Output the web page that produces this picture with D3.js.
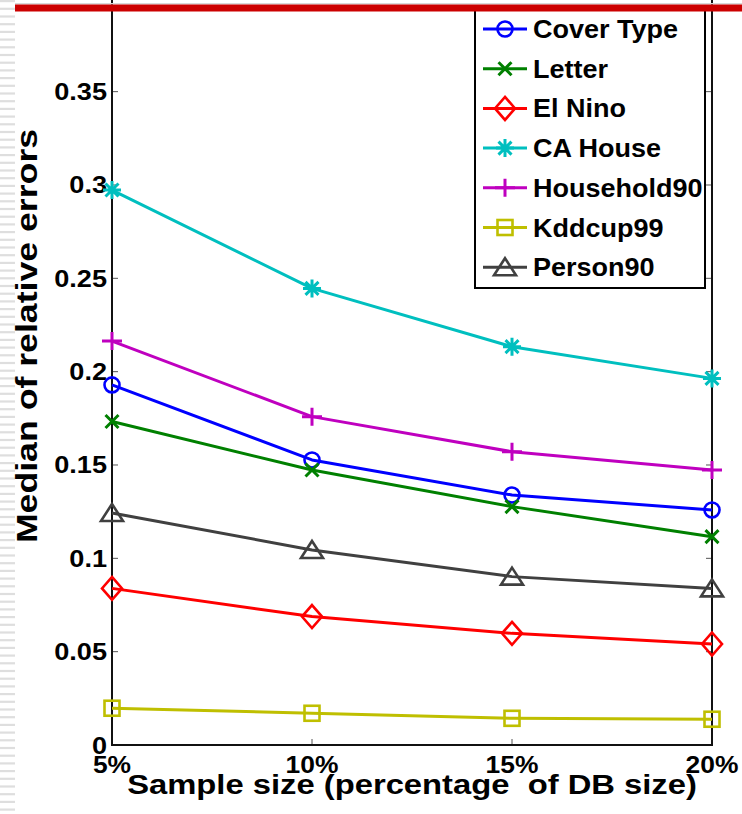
<!DOCTYPE html>
<html>
<head>
<meta charset="utf-8">
<script src="https://cdn.jsdelivr.net/npm/d3@7"></script>
<style>
html,body{margin:0;padding:0;background:#fff;}
svg{display:block;}
text{font-family:"Liberation Sans",Arial,Helvetica,sans-serif;fill:#000;}
</style>
</head>
<body>
<svg id="chart" width="742" height="814"></svg>
<script>
// ---- data ----
const sampleSizes = [5, 10, 15, 20];
const xTickLabels = ["5%", "10%", "15%", "20%"];
const yTicks = [0, 0.05, 0.1, 0.15, 0.2, 0.25, 0.3, 0.35];
const yTickLabels = ["0", "0.05", "0.1", "0.15", "0.2", "0.25", "0.3", "0.35"];
const seriesNames = ["Cover Type", "Letter", "El Nino", "CA House", "Household90", "Kddcup99", "Person90"];
const coverType   = [0.1929, 0.1527, 0.1339, 0.1259];
const letter      = [0.1733, 0.1473, 0.1277, 0.1116];
const elNino      = [0.0839, 0.0688, 0.0598, 0.0541];
const caHouse     = [0.2973, 0.2446, 0.2134, 0.1964];
const household90 = [0.2164, 0.1759, 0.1571, 0.1473];
const kddcup99    = [0.0197, 0.0170, 0.0143, 0.0138];
const person90    = [0.1243, 0.1045, 0.0902, 0.0839];
const seriesValues = [coverType, letter, elNino, caHouse, household90, kddcup99, person90];
const seriesColors = ["#0000ff", "#008000", "#ff0000", "#00bfbf", "#bf00bf", "#bfbf00", "#404040"];
const seriesMarkers = ["circle", "x", "diamond", "asterisk", "plus", "square", "triangle"];
const xTitle = "Sample size (percentage  of DB size)";
const yTitle = "Median of relative errors";

// ---- layout ----
const svg = d3.select("#chart");
const left = 112, right = 712, bottom = 745;
const x = d3.scaleLinear().domain([5, 20]).range([left, right]);
const y = d3.scaleLinear().domain([0, 0.4]).range([bottom, bottom - 0.4 * 1866.7]);

function stext(g, tx, ty, str, size, weight, anchor, rot, sx) {
  let tr = `translate(${tx},${ty})` + (rot ? ` rotate(${rot})` : "") + ` scale(${sx},1)`;
  return g.append("text").attr("transform", tr)
    .attr("text-anchor", anchor).style("font-size", size + "px")
    .style("font-weight", weight).style("white-space", "pre").text(str);
}

// left decorative strip
const strip = svg.append("g");
d3.range(0, 814, 7.7).forEach(v => {
  strip.append("rect").attr("x", 0).attr("y", v).attr("width", 15).attr("height", 2.2).attr("fill", "#dedede");
});

// ticks
const tickG = svg.append("g").attr("stroke", "#555").attr("stroke-width", 1);
yTicks.forEach(t => {
  if (t === 0) return;
  tickG.append("line").attr("x1", left).attr("x2", left + 6).attr("y1", y(t)).attr("y2", y(t));
  tickG.append("line").attr("x1", right).attr("x2", right - 6).attr("y1", y(t)).attr("y2", y(t));
});
sampleSizes.forEach(s => {
  tickG.append("line").attr("x1", x(s)).attr("x2", x(s)).attr("y1", bottom).attr("y2", bottom - 6);
});

// frame
svg.append("rect").attr("x", left).attr("y", y(0.4)).attr("width", right - left).attr("height", bottom - y(0.4))
  .attr("fill", "none").attr("stroke", "#111").attr("stroke-width", 2);

// tick labels
const lab = svg.append("g");
yTicks.forEach((t, i) => stext(lab, 107, y(t) + 8.5, yTickLabels[i], 24, "bold", "end", 0, 1.13));
sampleSizes.forEach((s, i) => stext(lab, x(s), 773, xTickLabels[i], 24, "bold", "middle", 0, 1.1));

// titles
stext(svg, 412, 794, xTitle, 28, "bold", "middle", 0, 1.17);
stext(svg, 37, 336, yTitle, 29, "bold", "middle", -90, 1.23);

// markers
function drawMarker(g, type, cx, cy, color) {
  const m = g.append("g").attr("transform", `translate(${cx},${cy})`)
    .attr("stroke", color).attr("stroke-width", 2.6).attr("fill", "none");
  if (type === "circle") m.append("circle").attr("r", 7.5);
  else if (type === "x") m.append("path").attr("d", "M-6.5,-6.5L6.5,6.5M-6.5,6.5L6.5,-6.5").attr("stroke-width", 3);
  else if (type === "diamond") m.append("path").attr("d", "M0,-11.5L10,0L0,11.5L-10,0Z");
  else if (type === "asterisk") m.append("path").attr("d", "M0,-9L0,9M-9,0L9,0M-6.5,-6.5L6.5,6.5M-6.5,6.5L6.5,-6.5").attr("stroke-width", 3);
  else if (type === "plus") m.append("path").attr("d", "M0,-9L0,9M-10,0L10,0").attr("stroke-width", 3);
  else if (type === "square") m.append("rect").attr("x", -7.5).attr("y", -7.5).attr("width", 15).attr("height", 15);
  else if (type === "triangle") m.append("path").attr("d", "M0,-9L11,8L-11,8Z");
}

const line = d3.line().x((d, i) => x(sampleSizes[i])).y(d => y(d));
const plot = svg.append("g");
seriesValues.forEach((vals, k) => {
  plot.append("path").attr("d", line(vals)).attr("fill", "none")
    .attr("stroke", seriesColors[k]).attr("stroke-width", 3).attr("stroke-linejoin", "round");
  vals.forEach((v, i) => drawMarker(plot, seriesMarkers[k], x(sampleSizes[i]), y(v), seriesColors[k]));
});

// legend
const lg = svg.append("g");
lg.append("rect").attr("x", 475).attr("y", 6).attr("width", 230).attr("height", 282)
  .attr("fill", "#fff").attr("stroke", "#000").attr("stroke-width", 2);
seriesNames.forEach((name, k) => {
  const cy = 29 + k * 39.7;
  lg.append("line").attr("x1", 483).attr("x2", 527).attr("y1", cy).attr("y2", cy)
    .attr("stroke", seriesColors[k]).attr("stroke-width", 3);
  drawMarker(lg, seriesMarkers[k], 505, cy, seriesColors[k]);
  stext(lg, 533, cy + 9, name, 25, "bold", "start", 0, 1.08);
});

// top red band
svg.append("rect").attr("x", 15).attr("y", 3).attr("width", 727).attr("height", 1.5).attr("fill", "#d8d8d8");
svg.append("rect").attr("x", 15).attr("y", 4.5).attr("width", 727).attr("height", 7).attr("fill", "#cc0000");
</script>
</body>
</html>
